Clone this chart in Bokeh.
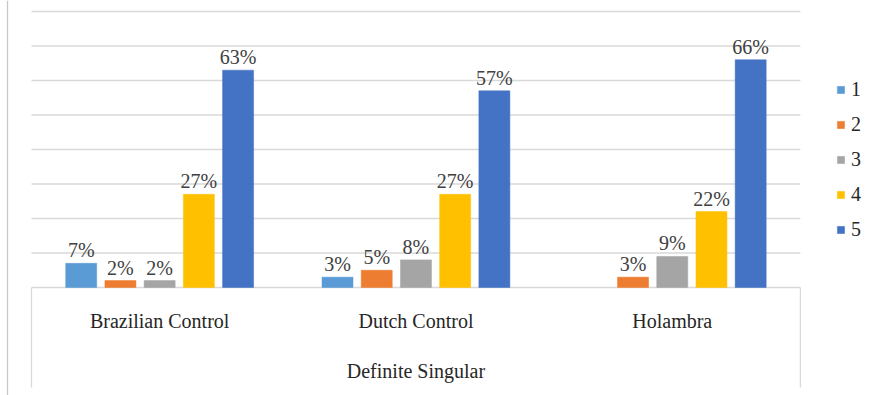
from bokeh.plotting import figure
from bokeh.models import Range1d, ColumnDataSource, Legend, LegendItem
from bokeh.core.properties import value
from bokeh.embed import file_html
from bokeh.resources import INLINE

# ---- data ----
categories = ["Brazilian Control", "Dutch Control", "Holambra"]
group_label = "Definite Singular"
series_names = ["1", "2", "3", "4", "5"]
s1 = [7, 3, None]
s2 = [2, 5, 3]
s3 = [2, 8, 9]
s4 = [27, 27, 22]
s5 = [63, 57, 66]
series_values = [s1, s2, s3, s4, s5]
grid_ticks = [0, 10, 20, 30, 40, 50, 60, 70, 80]

colors = ["#5B9BD5", "#ED7D31", "#A5A5A5", "#FFC000", "#4472C4"]
FONT = "Liberation Serif"
GRID = "#D9D9D9"

# ---- geometry (one category = 1 x unit, 1 y unit = 1 %) ----
W, H = 875, 395
CAT_PX = 256.3          # pixels per category
LEFT_PX = 31            # left edge of the plot area
PCT_PX = 3.45           # pixels per percent
BASE_PX = 287           # baseline from top
x0 = -LEFT_PX / CAT_PX
x1 = x0 + W / CAT_PX
y1 = BASE_PX / PCT_PX
y0 = -(H - BASE_PX) / PCT_PX

p = figure(width=W, height=H, x_range=Range1d(x0, x1), y_range=Range1d(y0, y1),
           output_backend="svg", toolbar_location=None, min_border=0,
           outline_line_color=None, background_fill_color="white",
           border_fill_color="white")
p.xaxis.visible = False
p.yaxis.visible = False
p.xgrid.visible = False
p.ygrid.visible = False

ncat = len(categories)

# horizontal gridlines
p.segment(x0=[0] * len(grid_ticks), x1=[ncat] * len(grid_ticks),
          y0=grid_ticks, y1=grid_ticks, line_color=GRID, line_width=1.3)

# category axis box (left/right edges below the baseline)
box_bottom = -100 / PCT_PX
p.segment(x0=[0, ncat], x1=[0, ncat], y0=[0, 0], y1=[box_bottom, box_bottom],
          line_color=GRID, line_width=1.3)
# chart border on the far left
p.segment(x0=[-24 / CAT_PX], x1=[-24 / CAT_PX], y0=[y0], y1=[y1],
          line_color="#C8C8C8", line_width=1.3)

# bars
pitch = 0.153
bar_w = 0.121
items = []
for j, (name, vals) in enumerate(zip(series_names, series_values)):
    xs, tops, labels = [], [], []
    for i, v in enumerate(vals):
        if v is None:
            continue
        xs.append(i + 0.5 + (j - 2) * pitch)
        tops.append(v)
        labels.append(f"{v}%")
    src = ColumnDataSource(dict(x=xs, top=tops, label=labels))
    r = p.vbar(x="x", top="top", bottom=0, width=bar_w, source=src,
               fill_color=colors[j], line_color=colors[j], line_width=0.5)
    p.text(x="x", y="top", text="label", source=src, text_align="center",
           text_baseline="alphabetic", y_offset=-13,
           text_font=value(FONT), text_font_size="20px", text_color="#404040")
    items.append(LegendItem(label=name, renderers=[r]))

# category labels
p.text(x=[i + 0.5 for i in range(ncat)], y=[-33 / PCT_PX] * ncat, text=categories,
       text_align="center", text_baseline="middle", text_font=value(FONT),
       text_font_size="20px", text_color="#262626")
p.text(x=[ncat / 2], y=[-83 / PCT_PX], text=[group_label],
       text_align="center", text_baseline="middle", text_font=value(FONT),
       text_font_size="20px", text_color="#262626")

legend = Legend(items=items, location=(836, 154), padding=0, margin=0,
                glyph_width=9, glyph_height=9, label_standoff=6, spacing=12,
                label_text_font=FONT, label_text_font_size="20px",
                label_text_color="#262626", border_line_color=None,
                background_fill_alpha=0)
p.add_layout(legend)

open("out.html", "w").write(file_html(p, INLINE))
